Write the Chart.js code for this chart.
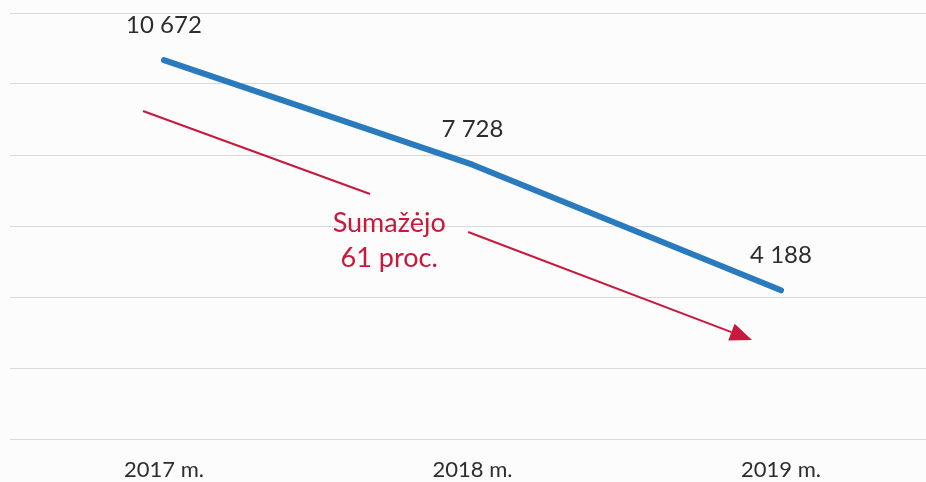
<!DOCTYPE html>
<html>
<head>
<meta charset="utf-8">
<script src="https://cdn.jsdelivr.net/npm/chart.js@4"></script>
<style>
  html, body { margin: 0; padding: 0; background: #fcfcfc; overflow: hidden; }
  #wrap { width: 926px; height: 482px; }
</style>
</head>
<body>
<div id="wrap"><canvas id="c"></canvas></div>
<script>
// duomenys
const years = ['2017 m.', '2018 m.', '2019 m.'];
const values = [10672, 7728, 4188];
const valueLabels = ['10 672', '7 728', '4 188'];
const yMin = 0, yMax = 12000, yStep = 2000;

// anotacija (x = metų indeksas, y = reikšmė)
const noteText = ['Sumažėjo', '61 proc.'];
const noteTextPos = [[0.73, 6080], [0.73, 5100]];
const noteLine = [[-0.068, 9239], [0.668, 6901]];
const noteArrow = [[0.986, 5831], [1.906, 2789]];

const RED = '#c8193c';
const BLUE = '#2a7bbd';

// reikšmių užrašai virš taškų
const valueLabelPlugin = {
  id: 'valueLabels',
  afterDatasetsDraw(chart) {
    const ctx = chart.ctx;
    const meta = chart.getDatasetMeta(0);
    ctx.save();
    ctx.font = '24px Lato';
    ctx.fillStyle = '#2d2d2d';
    ctx.textAlign = 'center';
    ctx.textBaseline = 'middle';
    meta.data.forEach((pt, i) => {
      ctx.fillText(valueLabels[i], pt.x, pt.y - 35);
    });
    ctx.restore();
  }
};

// raudona rodyklė ir tekstas
const notePlugin = {
  id: 'note',
  afterDatasetsDraw(chart) {
    const ctx = chart.ctx;
    const sx = chart.scales.x, sy = chart.scales.y;
    const px = p => [sx.getPixelForValue(p[0]), sy.getPixelForValue(p[1])];
    ctx.save();
    ctx.strokeStyle = RED;
    ctx.fillStyle = RED;
    ctx.lineWidth = 2;

    let a = px(noteLine[0]), b = px(noteLine[1]);
    ctx.beginPath();
    ctx.moveTo(a[0], a[1]);
    ctx.lineTo(b[0], b[1]);
    ctx.stroke();

    a = px(noteArrow[0]); b = px(noteArrow[1]);
    const ang = Math.atan2(b[1] - a[1], b[0] - a[0]);
    const headLen = 22, headW = 9;
    const bx = b[0] - headLen * Math.cos(ang), by = b[1] - headLen * Math.sin(ang);
    ctx.beginPath();
    ctx.moveTo(a[0], a[1]);
    ctx.lineTo(bx, by);
    ctx.stroke();
    ctx.beginPath();
    ctx.moveTo(b[0], b[1]);
    ctx.lineTo(bx + headW * Math.sin(ang), by - headW * Math.cos(ang));
    ctx.lineTo(bx - headW * Math.sin(ang), by + headW * Math.cos(ang));
    ctx.closePath();
    ctx.fill();

    ctx.font = '27px Lato';
    ctx.textAlign = 'center';
    ctx.textBaseline = 'middle';
    noteText.forEach((t, i) => {
      const p = px(noteTextPos[i]);
      ctx.fillText(t, p[0], p[1]);
    });
    ctx.restore();
  }
};

new Chart(document.getElementById('c'), {
  type: 'line',
  data: {
    datasets: [{
      data: values.map((v, i) => ({ x: i, y: v })),
      borderColor: BLUE,
      borderWidth: 6,
      borderCapStyle: 'round',
      borderJoinStyle: 'round',
      pointRadius: 0,
      tension: 0
    }]
  },
  options: {
    responsive: true,
    maintainAspectRatio: false,
    animation: false,
    layout: { padding: { top: 13, left: 10, right: 0, bottom: 0 } },
    plugins: { legend: { display: false }, tooltip: { enabled: false } },
    scales: {
      x: {
        type: 'linear',
        min: -0.499,
        max: 2.47,
        grid: { display: false, drawTicks: false },
        border: { display: false },
        afterBuildTicks: s => { s.ticks = s.ticks.filter(t => Number.isInteger(t.value)); },
        afterFit: s => { s.height = 43; },
        ticks: {
          stepSize: 1,
          padding: 18,
          maxRotation: 0,
          autoSkip: false,
          color: '#2d2d2d',
          font: { family: 'Lato', size: 22 },
          callback: v => years[v] ?? ''
        }
      },
      y: {
        min: yMin,
        max: yMax,
        grid: { color: '#d9d9d9', lineWidth: 1, drawTicks: false },
        border: { display: false },
        ticks: { stepSize: yStep, display: false }
      }
    }
  },
  plugins: [valueLabelPlugin, notePlugin]
});
</script>
</body>
</html>
